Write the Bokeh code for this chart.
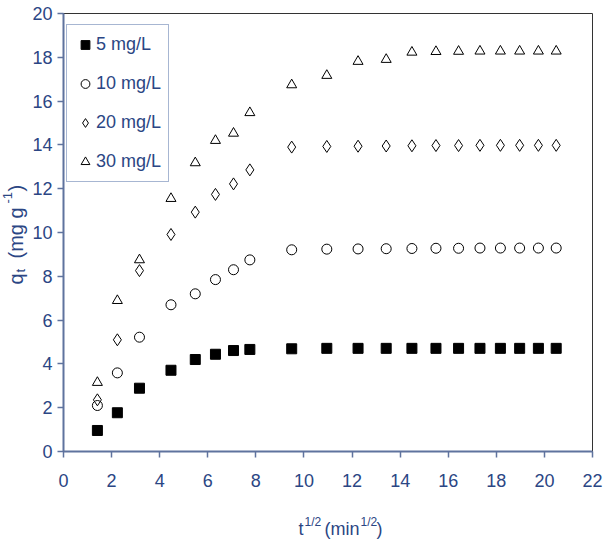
import math
from bokeh.plotting import figure
from bokeh.layouts import column, row
from bokeh.models import Range1d, Label, Legend, LegendItem, FixedTicker
from bokeh.embed import file_html
from bokeh.resources import INLINE

# ---- data ----
t_sqrt = [1.41, 2.24, 3.16, 4.47, 5.48, 6.32, 7.07, 7.75, 9.49, 10.95,
          12.25, 13.42, 14.49, 15.49, 16.43, 17.32, 18.17, 18.97, 19.75, 20.49]
q_5 = [0.96, 1.77, 2.89, 3.71, 4.20, 4.44, 4.61, 4.66, 4.69, 4.71,
       4.71, 4.71, 4.71, 4.71, 4.71, 4.71, 4.71, 4.71, 4.71, 4.71]
q_10 = [2.10, 3.59, 5.22, 6.70, 7.20, 7.85, 8.30, 8.75, 9.21, 9.24,
        9.25, 9.26, 9.27, 9.28, 9.28, 9.29, 9.29, 9.29, 9.29, 9.29]
q_20 = [2.36, 5.10, 8.26, 9.91, 10.93, 11.74, 12.22, 12.86, 13.90, 13.93,
        13.94, 13.95, 13.96, 13.97, 13.97, 13.98, 13.98, 13.98, 13.98, 13.98]
q_30 = [3.15, 6.89, 8.75, 11.55, 13.18, 14.20, 14.53, 15.47, 16.74, 17.17,
        17.81, 17.90, 18.23, 18.26, 18.27, 18.28, 18.28, 18.28, 18.28, 18.28]
series_labels = ["5 mg/L", "10 mg/L", "20 mg/L", "30 mg/L"]
x_ticks = [0, 2, 4, 6, 8, 10, 12, 14, 16, 18, 20, 22]
y_ticks = [0, 2, 4, 6, 8, 10, 12, 14, 16, 18, 20]

FONT = "Liberation Sans"
TXT = "#2b4684"
AXC = "#5f739e"

YW = 29      # width of the strip holding the y-axis title
MH = 505     # height of the main figure
XH = 540 - MH

p = figure(width=604 - YW, height=MH, output_backend="svg", toolbar_location=None,
           x_range=Range1d(0, 22), y_range=Range1d(0, 20),
           min_border_left=62 - YW, min_border_right=12, min_border_top=13,
           min_border_bottom=MH - 451)
p.grid.visible = False
p.background_fill_color = "white"
p.border_fill_color = "white"
p.outline_line_color = "#333333"
p.outline_line_width = 1

for ax, ticks in ((p.xaxis[0], x_ticks), (p.yaxis[0], y_ticks)):
    ax.ticker = FixedTicker(ticks=ticks)
    ax.axis_line_color = AXC
    ax.axis_line_width = 2
    ax.major_tick_line_color = AXC
    ax.major_tick_line_width = 1.5
    ax.major_tick_out = 6
    ax.major_tick_in = 0
    ax.minor_tick_line_color = None
    ax.major_label_text_font = FONT
    ax.major_label_text_font_size = "18px"
    ax.major_label_text_color = TXT
p.xaxis.major_label_standoff = 16
p.yaxis.major_label_standoff = 5

r5 = p.scatter(t_sqrt, q_5, marker="square", size=10, fill_color="black", line_color="black")
r10 = p.scatter(t_sqrt, q_10, marker="circle", size=10, fill_color=None, line_color="black", line_width=1)
r20 = p.scatter(t_sqrt, q_20, marker="diamond", size=12, fill_color=None, line_color="black", line_width=1)
r30 = p.scatter(t_sqrt, q_30, marker="triangle", size=10, fill_color=None, line_color="black", line_width=1)

legend = Legend(items=[LegendItem(label=l, renderers=[r]) for l, r in
                       zip(series_labels, [r5, r10, r20, r30])],
                location=(3, 269))
legend.label_text_font = FONT
legend.label_text_font_size = "18px"
legend.label_text_color = TXT
legend.glyph_width = 22
legend.glyph_height = 25
legend.label_height = 25
legend.label_standoff = 0
legend.spacing = 14
legend.padding = 7
legend.border_line_color = "#4f6ea6"
legend.border_line_width = 1
legend.background_fill_color = "white"
legend.background_fill_alpha = 1
p.add_layout(legend)


def strip(w, h):
    f = figure(width=w, height=h, output_backend="svg", toolbar_location=None,
               x_range=Range1d(0, w), y_range=Range1d(0, h),
               x_axis_location=None, y_axis_location=None,
               min_border=0, min_border_left=0, min_border_right=0,
               min_border_top=0, min_border_bottom=0)
    f.grid.visible = False
    f.outline_line_color = None
    f.background_fill_color = "white"
    f.border_fill_color = "white"
    return f


def lab(f, text, cx, sy, size, angle=0.0):
    f.add_layout(Label(x=cx, y=sy, x_units="screen", y_units="screen",
                       text=text, text_font=FONT, text_font_size=size,
                       text_color=TXT, text_align="left", text_baseline="alphabetic",
                       angle=angle))


# y-axis title strip: q_t (mg g^-1); its frame lines up with the main frame (canvas y 13..451)
fy = strip(YW, MH)
A = math.pi / 2
YB = 451
lab(fy, "q", 15, YB - 284, "20px", A)
lab(fy, "t", 20, YB - 272, "13px", A)
lab(fy, "(mg g", 15, YB - 258, "20px", A)
lab(fy, "-1", 7, YB - 203, "13px", A)
lab(fy, ")", 15, YB - 191, "20px", A)

# x-axis title strip: t^{1/2} (min^{1/2})
fx = strip(604, XH)
lab(fx, "t", 298, 540 - 528, "18px")
lab(fx, "1/2", 304, 540 - 521, "12px")
lab(fx, "(min", 324, 540 - 528, "18px")
lab(fx, "1/2", 360, 540 - 521, "12px")
lab(fx, ")", 376, 540 - 528, "18px")

layout = column(row(fy, p, spacing=0), fx, spacing=0)
open("out.html", "w").write(file_html(layout, INLINE))
